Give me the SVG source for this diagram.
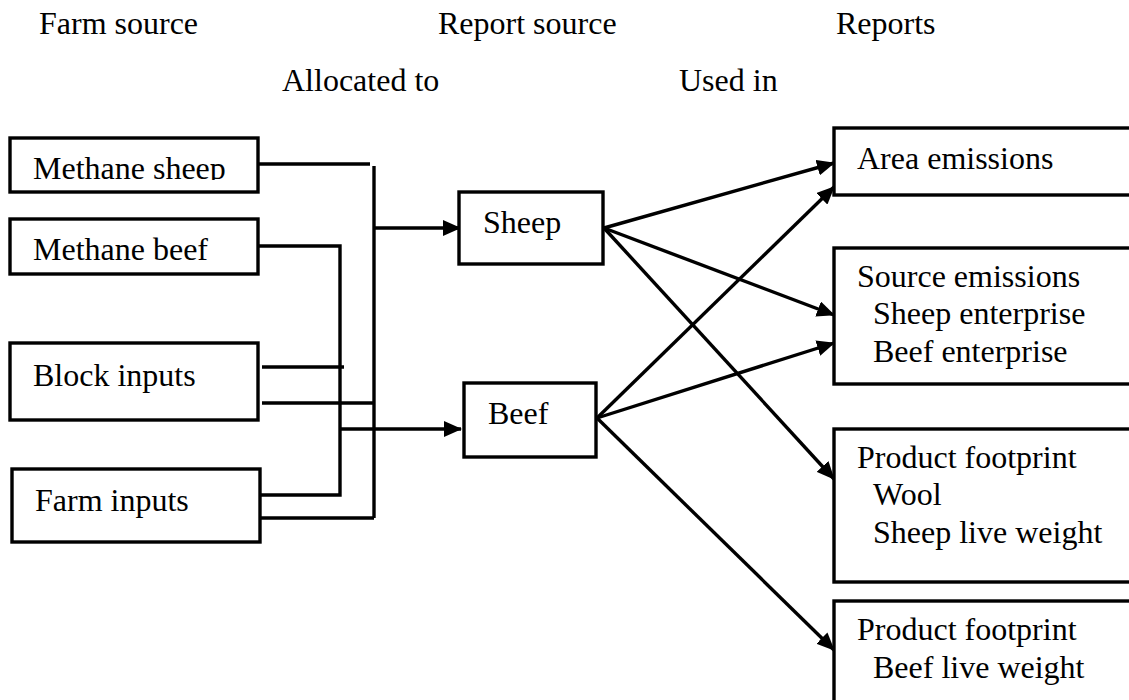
<svg xmlns="http://www.w3.org/2000/svg" width="1129" height="700" viewBox="0 0 1129 700">
<style>
  text { font-family: "Liberation Serif", "Times New Roman", serif; font-size: 32px; fill: #000; }
  .box { fill: #fff; stroke: #000; stroke-width: 3.4; }
  .conn { fill: none; stroke: #000; stroke-width: 3.4; }
  .arr { fill: none; stroke: #000; stroke-width: 3.4; marker-end: url(#ah); }
</style>
<defs>
  <marker id="ah" markerUnits="userSpaceOnUse" markerWidth="18" markerHeight="16" viewBox="0 0 18 16" refX="17" refY="8" orient="auto">
    <path d="M0,0 L18,8 L0,16 z" fill="#000"/>
  </marker>
  <clipPath id="clipMS">
    <rect x="10" y="130" width="250" height="50"/>
  </clipPath>
</defs>
<rect width="1129" height="700" fill="#fff"/>

<g id="headers">
  <text x="39" y="34" font-family="Liberation Serif, serif">Farm source</text>
  <text x="438" y="34" font-family="Liberation Serif, serif">Report source</text>
  <text x="836" y="34" font-family="Liberation Serif, serif">Reports</text>
  <text x="282" y="91" font-family="Liberation Serif, serif">Allocated to</text>
  <text x="679" y="91" font-family="Liberation Serif, serif">Used in</text>
</g>

<g id="connectors">
  <path class="conn" d="M258,164 H370"/>
  <path class="conn" d="M374,166 V518"/>
  <path class="arr" d="M374,228 H460"/>
  <path class="conn" d="M258,246 H340 V495 H260"/>
  <path class="conn" d="M262,367 H344"/>
  <path class="conn" d="M262,403 H374"/>
  <path class="arr" d="M340,429 H461"/>
  <path class="conn" d="M260,518 H374"/>
  <path class="arr" d="M604,228 L834,163"/>
  <path class="arr" d="M604,228 L834,315"/>
  <path class="arr" d="M604,228 L834,479"/>
  <path class="arr" d="M597,418 L834,187"/>
  <path class="arr" d="M597,418 L834,343"/>
  <path class="arr" d="M597,418 L834,650"/>
</g>

<g id="methane-sheep">
  <rect class="box" x="10" y="138" width="248" height="54"/>
  <text x="33" y="179" clip-path="url(#clipMS)">Methane sheep</text>
</g>
<g id="methane-beef">
  <rect class="box" x="10" y="219" width="248" height="55"/>
  <text x="33" y="260">Methane beef</text>
</g>
<g id="block-inputs">
  <rect class="box" x="10" y="343" width="248" height="77"/>
  <text x="33" y="386">Block inputs</text>
</g>
<g id="farm-inputs">
  <rect class="box" x="12" y="469" width="248" height="73"/>
  <text x="35" y="511">Farm inputs</text>
</g>

<g id="sheep">
  <rect class="box" x="459" y="192" width="144" height="72"/>
  <text x="483" y="233">Sheep</text>
</g>
<g id="beef">
  <rect class="box" x="464" y="383" width="132" height="74"/>
  <text x="488" y="424">Beef</text>
</g>

<g id="area-emissions">
  <rect class="box" x="834" y="128" width="320" height="67"/>
  <text x="857" y="169">Area emissions</text>
</g>
<g id="source-emissions">
  <rect class="box" x="834" y="248" width="320" height="136"/>
  <text x="857" y="287">Source emissions</text>
  <text x="873" y="324">Sheep enterprise</text>
  <text x="873" y="362">Beef enterprise</text>
</g>
<g id="product-footprint-sheep">
  <rect class="box" x="834" y="429" width="320" height="153"/>
  <text x="857" y="468">Product footprint</text>
  <text x="873" y="505">Wool</text>
  <text x="873" y="543">Sheep live weight</text>
</g>
<g id="product-footprint-beef">
  <rect class="box" x="834" y="601" width="320" height="140"/>
  <text x="857" y="640">Product footprint</text>
  <text x="873" y="678">Beef live weight</text>
</g>
</svg>
